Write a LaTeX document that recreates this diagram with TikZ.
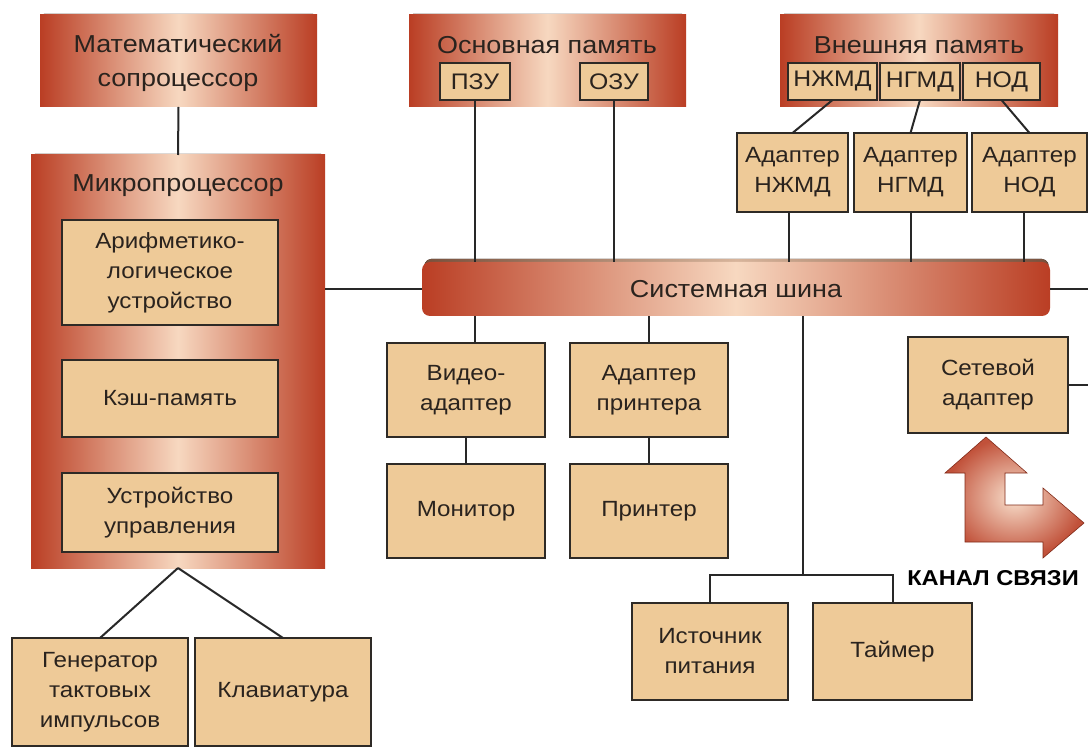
\documentclass[tikz,border=0pt]{standalone}
\usepackage{fontspec}
\setmainfont[FakeStretch=1.1]{Liberation Sans}
\usetikzlibrary{calc}
\definecolor{rd}{RGB}{186,62,36}
\definecolor{pk}{RGB}{247,216,192}
\definecolor{tan}{RGB}{238,202,152}
\definecolor{bord}{RGB}{46,42,38}
\definecolor{txt}{RGB}{42,35,30}
\definecolor{lnc}{RGB}{40,40,40}
\definecolor{bev}{RGB}{120,80,60}
\definecolor{bevl}{RGB}{215,180,155}
\newcommand\bx[7]{\node[#6, minimum width={(#4-#2)*1pt}, minimum height={(#5-#3)*1pt}] (#1) at ({(#2+#4)/2},{(#3+#5)/2}) {#7};}
\newcommand\bev[3]{\fill[left color=bev, right color=bev, middle color=bevl] (#1,#3+5) -- (#1+4,#3-1) -- (#2-4,#3-1) -- (#2,#3+5) -- cycle;}
\tikzset{
  redbox/.style={rectangle, inner sep=0pt, outer sep=0pt, draw=none, left color=rd, right color=rd, middle color=pk},
  tanbox/.style={rectangle, inner sep=0pt, outer sep=0pt, draw=bord, line width=2.4pt, fill=tan, text=txt, align=center, font=\fontsize{22}{30}\selectfont},
  smallbox/.style={tanbox, font=\fontsize{22.5}{26}\selectfont, line width=2pt},
  title/.style={text=txt, align=center, font=\fontsize{24.5}{34}\selectfont, inner sep=0pt},
  conn/.style={draw=lnc, line width=2pt},
}
\begin{document}
\begin{tikzpicture}[x=1pt,y=-1pt]
\useasboundingbox (0,0) rectangle (1088,751);
\fill[white] (0,0) rectangle (1088,751);
% red boxes
\bev{40}{317}{15}
\bx{copro}{40}{15}{317}{107}{redbox}{}
\node[title] (coprot) at (178,63) {Математический\\сопроцессор};
\bev{409}{686}{15}
\bx{mainmem}{409}{15}{686}{107}{redbox}{}
\node[title] (mainmemt) at (547,45) {Основная память};
\bev{780}{1058}{15}
\bx{extmem}{780}{15}{1058}{107}{redbox}{}
\node[title] (extmemt) at (919,45) {Внешняя память};
\bev{31}{325}{155}
\bx{micro}{31}{155}{325}{568}{redbox}{}
\node[title] (microt) at (178,186) {Микропроцессор};
% bus
\fill[left color=bev, right color=bev, middle color=bevl, rounded corners=4pt] (423,267) -- (427,259) -- (1046,259) -- (1050,267) -- cycle;
\node[redbox, rounded corners=8pt, minimum width=628pt, minimum height=54pt, text=txt, font=\fontsize{24.5}{28}\selectfont] (bus) at (736,289) {Системная шина};
% memory sub boxes
\bx{pzu}{440}{63}{510}{100}{smallbox}{ПЗУ}
\bx{ozu}{580}{63}{648}{100}{smallbox}{ОЗУ}
\bx{nzhmd}{788}{63}{877}{100}{smallbox}{НЖМД}
\bx{ngmd}{880}{63}{960}{100}{smallbox}{НГМД}
\bx{nod}{963}{63}{1040}{100}{smallbox}{НОД}
% adapters
\bx{anzhmd}{737}{133}{848}{212}{tanbox}{Адаптер\\НЖМД}
\bx{angmd}{854}{133}{967}{212}{tanbox}{Адаптер\\НГМД}
\bx{anod}{972}{133}{1087}{212}{tanbox}{Адаптер\\НОД}
% microprocessor inner
\bx{alu}{62}{220}{278}{325}{tanbox}{Арифметико-\\логическое\\устройство}
\bx{cache}{62}{360}{278}{437}{tanbox}{Кэш-память}
\bx{cu}{62}{473}{278}{552}{tanbox}{Устройство\\управления}
% bottom left
\bx{gen}{12}{638}{188}{746}{tanbox}{Генератор\\тактовых\\импульсов}
\bx{kbd}{195}{638}{371}{746}{tanbox}{Клавиатура}
% under bus
\bx{video}{387}{343}{545}{437}{tanbox}{Видео-\\адаптер}
\bx{padapt}{570}{343}{728}{437}{tanbox}{Адаптер\\принтера}
\bx{mon}{387}{464}{545}{558}{tanbox}{Монитор}
\bx{prn}{570}{464}{728}{558}{tanbox}{Принтер}
\bx{psu}{632}{603}{788}{700}{tanbox}{Источник\\питания}
\bx{timer}{813}{603}{972}{700}{tanbox}{Таймер}
\bx{net}{908}{337}{1068}{433}{tanbox}{Сетевой\\адаптер}
% channel arrow
\path[draw=rd!70!black, line width=0.6pt, inner color=pk!80!white, outer color=rd!90, shading=radial]
 (986,437) -- (945,473) -- (965,473) -- (965,542) -- (1043,542) -- (1043,558) -- (1084,523)
 -- (1043,488) -- (1043,505) -- (1005,505) -- (1005,473) -- (1027,473) -- cycle;
\node[text=black, font=\bfseries\fontsize{21.5}{24}\selectfont, inner sep=0pt] (chan) at (993,578) {КАНАЛ СВЯЗИ};
% coordinates
\coordinate (re1) at (1088,289);
\coordinate (re2) at (1088,385);
\coordinate (jn) at (803,575);
% connectors
\draw[conn] (copro.south) -- (micro.north);
\draw[conn] (micro.east |- bus.west) -- (bus.west);
\draw[conn] (bus.east) -- (re1);
\draw[conn] (pzu.south) -- (pzu.south |- bus.north);
\draw[conn] (ozu.south) -- (ozu.south |- bus.north);
\draw[conn] (nzhmd.south) -- (anzhmd.north);
\draw[conn] (ngmd.south) -- (angmd.north);
\draw[conn] (nod.south) -- (anod.north);
\draw[conn] ([xshift=-4pt]anzhmd.south) -- ([xshift=-4pt]anzhmd.south |- bus.north);
\draw[conn] (angmd.south) -- (angmd.south |- bus.north);
\draw[conn] ([xshift=-6pt]anod.south) -- ([xshift=-6pt]anod.south |- bus.north);
\draw[conn] ([xshift=9pt]video.north) -- ([xshift=9pt]video.north |- bus.south);
\draw[conn] (padapt.north) -- (padapt.north |- bus.south);
\draw[conn] (video.south) -- (mon.north);
\draw[conn] (padapt.south) -- (prn.north);
\draw[conn] (jn |- bus.south) -- (jn);
\draw[conn] (jn) -| (psu.north);
\draw[conn] (jn) -| (timer.north);
\draw[conn] (net.east) -- (re2);
\draw[conn] (micro.south) -- (gen.north);
\draw[conn] (micro.south) -- (kbd.north);
\end{tikzpicture}
\end{document}
